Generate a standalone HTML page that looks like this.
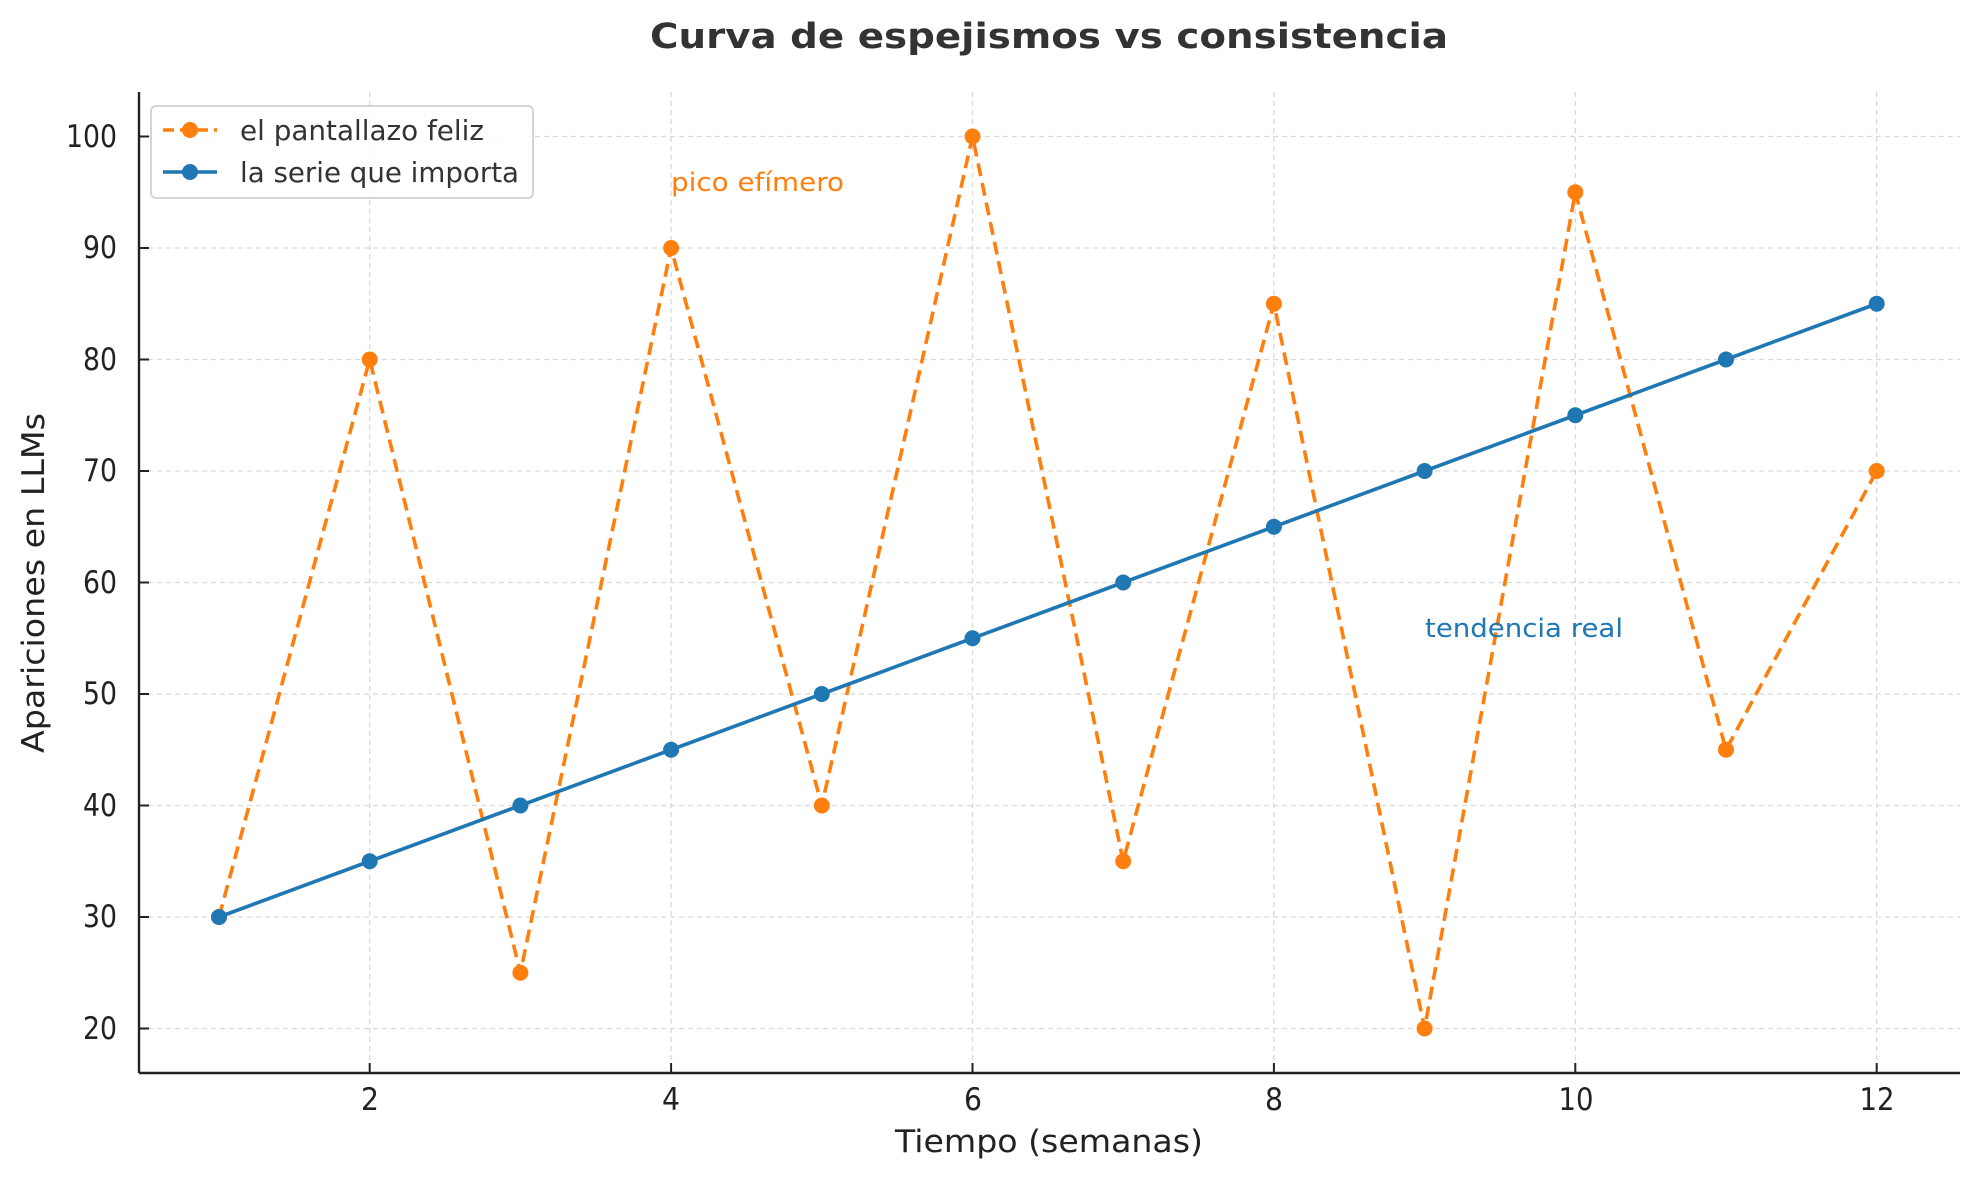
<!DOCTYPE html>
<html><head><meta charset="utf-8"><style>
html,body{margin:0;padding:0;background:#fff;}
svg{display:block;font-family:"DejaVu Sans","Liberation Sans",sans-serif;}
</style></head><body>
<svg id="s" width="1979" height="1180" viewBox="0 0 1979 1180" xmlns="http://www.w3.org/2000/svg">
<rect width="1979" height="1180" fill="#fff"/>
<g id="grid" stroke="#d9d9d9" stroke-width="1.3" stroke-dasharray="5,4"></g>
<g id="series"></g>
<line x1="139" y1="92" x2="139" y2="1073" stroke="#222" stroke-width="2.4"/>
<line x1="139" y1="1073" x2="1960" y2="1073" stroke="#222" stroke-width="2.4"/>
<g id="ticks" stroke="#222" stroke-width="2"></g>
<g font-size="31" fill="#222" text-anchor="end">
<text x="117" y="147" textLength="51" lengthAdjust="spacingAndGlyphs">100</text>
<text x="117" y="258" textLength="34" lengthAdjust="spacingAndGlyphs">90</text><text x="117" y="370" textLength="34" lengthAdjust="spacingAndGlyphs">80</text>
<text x="117" y="481" textLength="34" lengthAdjust="spacingAndGlyphs">70</text><text x="117" y="593" textLength="34" lengthAdjust="spacingAndGlyphs">60</text><text x="117" y="704" textLength="34" lengthAdjust="spacingAndGlyphs">50</text>
<text x="117" y="816" textLength="34" lengthAdjust="spacingAndGlyphs">40</text><text x="117" y="927" textLength="34" lengthAdjust="spacingAndGlyphs">30</text><text x="117" y="1039" textLength="34" lengthAdjust="spacingAndGlyphs">20</text>
</g>
<g font-size="31" fill="#222" text-anchor="middle">
<text x="370" y="1110" textLength="18" lengthAdjust="spacingAndGlyphs">2</text><text x="671" y="1110" textLength="18" lengthAdjust="spacingAndGlyphs">4</text><text x="973" y="1110" textLength="18" lengthAdjust="spacingAndGlyphs">6</text>
<text x="1274" y="1110" textLength="18" lengthAdjust="spacingAndGlyphs">8</text><text x="1576" y="1110" textLength="35" lengthAdjust="spacingAndGlyphs">10</text><text x="1877" y="1110" textLength="35" lengthAdjust="spacingAndGlyphs">12</text>
</g>
<text x="1049" y="1152" font-size="31" fill="#222" text-anchor="middle" textLength="308" lengthAdjust="spacingAndGlyphs">Tiempo (semanas)</text>
<text transform="translate(44,583) rotate(-90)" font-size="31" fill="#222" text-anchor="middle" textLength="340" lengthAdjust="spacingAndGlyphs">Apariciones en LLMs</text>
<text x="1049" y="48" font-size="35" font-weight="bold" fill="#333" text-anchor="middle" textLength="798" lengthAdjust="spacingAndGlyphs">Curva de espejismos vs consistencia</text>
<text x="671" y="191" font-size="26" fill="#ff7f0e" textLength="173" lengthAdjust="spacingAndGlyphs">pico efímero</text>
<text x="1425" y="637" font-size="26" fill="#1f77b4" textLength="198" lengthAdjust="spacingAndGlyphs">tendencia real</text>
<rect x="151" y="106" width="382" height="92" rx="5" fill="#fff" fill-opacity="0.85" stroke="#d4d4d4" stroke-width="2"/>
<line x1="163" y1="130" x2="217" y2="130" stroke="#ff7f0e" stroke-width="3.6" stroke-dasharray="11,6"/>
<circle cx="190" cy="130" r="8" fill="#ff7f0e"/>
<line x1="163" y1="172" x2="217" y2="172" stroke="#1f77b4" stroke-width="3.6"/>
<circle cx="190" cy="172" r="8" fill="#1f77b4"/>
<text x="240" y="140" font-size="28" fill="#333" textLength="244" lengthAdjust="spacingAndGlyphs">el pantallazo feliz</text>
<text x="240" y="182" font-size="28" fill="#333" textLength="279" lengthAdjust="spacingAndGlyphs">la serie que importa</text>
</svg>
<script>
var NS="http://www.w3.org/2000/svg";
function X(t){return 219+(t-1)*150.7;}
function Y(v){return 1028.5-(v-20)*11.15;}
function el(p,n,a){var e=document.createElementNS(NS,n);for(var k in a)e.setAttribute(k,a[k]);p.appendChild(e);return e;}
var g=document.getElementById('grid'),tk=document.getElementById('ticks'),s=document.getElementById('series');
for(var t=2;t<=12;t+=2){el(g,'line',{x1:X(t),x2:X(t),y1:92,y2:1073});el(tk,'line',{x1:X(t),x2:X(t),y1:1063,y2:1073});}
for(var v=20;v<=100;v+=10){el(g,'line',{x1:139,x2:1960,y1:Y(v),y2:Y(v)});el(tk,'line',{x1:139,x2:149,y1:Y(v),y2:Y(v)});}
var o=[30,80,25,90,40,100,35,85,20,95,45,70];
var b=[];for(var i=0;i<12;i++)b.push(30+5*i);
function ser(d,c,dash){var pts=d.map(function(v,i){return X(i+1)+','+Y(v);}).join(' ');
var a={points:pts,fill:'none',stroke:c,'stroke-width':3.6,'stroke-linejoin':'round'};if(dash)a['stroke-dasharray']='13,7';
el(s,'polyline',a);d.forEach(function(v,i){el(s,'circle',{cx:X(i+1),cy:Y(v),r:8,fill:c});});}
ser(o,'#ff7f0e',true);ser(b,'#1f77b4',false);
</script>
</body></html>
